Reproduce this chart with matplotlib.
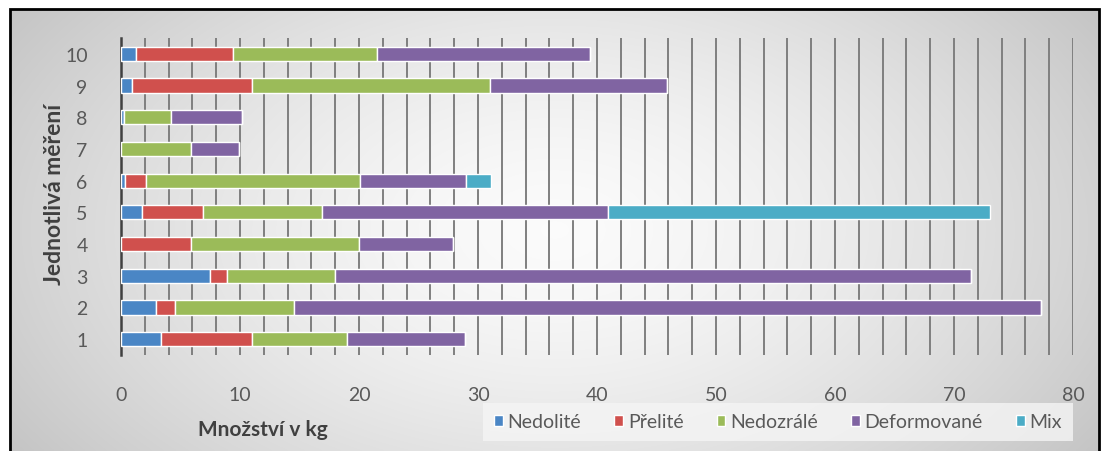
import numpy as np
import matplotlib
matplotlib.use("Agg")
import matplotlib.pyplot as plt
from matplotlib.patches import Rectangle
from matplotlib.ticker import MultipleLocator

plt.rcParams['font.family'] = ['Lato', 'DejaVu Sans']

categories = ["1", "2", "3", "4", "5", "6", "7", "8", "9", "10"]
series_names = ["Nedolité", "Přelité", "Nedozrálé", "Deformované", "Mix"]
nedolite = [3.4, 2.9, 7.5, 0.0, 1.8, 0.3, 0.0, 0.25, 0.9, 1.3]
prelite = [7.6, 1.6, 1.4, 5.9, 5.1, 1.8, 0.0, 0.0, 10.1, 8.1]
nedozrale = [8.0, 10.0, 9.1, 14.1, 10.0, 18.0, 5.9, 3.95, 20.0, 12.1]
deformovane = [9.9, 62.8, 53.4, 7.9, 24.0, 8.9, 4.0, 6.0, 14.9, 17.9]
mix = [0.0, 0.0, 0.0, 0.0, 32.1, 2.1, 0.0, 0.0, 0.0, 0.0]
colors = ["#4A86C5", "#D0504D", "#9BBB59", "#8064A2", "#4BACC6"]

W, H = 1111, 452
fig = plt.figure(figsize=(W / 100, H / 100), dpi=100)
fig.patch.set_facecolor("white")

# background gradient
bg = fig.add_axes([0, 0, 1, 1], zorder=-10)
x = np.linspace(-1, 1, 400)
y = np.linspace(-1, 1, 200)
X, Y = np.meshgrid(x, y)
R = np.sqrt((X * 0.9) ** 2 + (Y * 0.6) ** 2)
G = 0.985 - 0.19 * np.clip(R, 0, 1.2) ** 1.5
bg.imshow(np.dstack([G, G, G]), extent=[10, 1100, 0, H - 10], aspect="auto",
          origin="lower", interpolation="bilinear")
bg.add_patch(Rectangle((10, -5), 1089, H - 10 + 5, fill=False, edgecolor="black", lw=2))
bg.set_xlim(0, W)
bg.set_ylim(0, H)
bg.axis("off")

ax = fig.add_axes([121 / W, 1 - 356 / H, (1073 - 121) / W, (356 - 39) / H])
ax.set_facecolor("none")
pos = np.arange(1, len(categories) + 1)
left = np.zeros(len(categories))
for name, vals, c in zip(series_names, [nedolite, prelite, nedozrale, deformovane, mix], colors):
    v = np.array(vals)
    ax.barh(pos, v, left=left, height=0.45, color=c, edgecolor="white", linewidth=1.0,
            label=name, zorder=3)
    left += v

ax.set_xlim(0, 80)
ax.set_ylim(0.5, 10.5)
ax.xaxis.set_major_locator(MultipleLocator(10))
ax.xaxis.set_minor_locator(MultipleLocator(2))
ax.grid(True, which="both", axis="x", color="#7f7f7f", lw=1.4, zorder=0)
ax.set_yticks(pos)
ax.set_yticklabels(categories)
for s in ["top", "right", "bottom"]:
    ax.spines[s].set_visible(False)
ax.spines["left"].set_color("#404040")
ax.spines["left"].set_linewidth(1.8)
ax.tick_params(axis="both", which="both", length=0, labelsize=14, labelcolor="#595959")
ax.tick_params(axis="x", pad=22)
ax.tick_params(axis="y", pad=24)

fig.text(55 / W, 1 - 194 / H, "Jednotlivá měření", rotation=90, ha="center", va="center",
         fontsize=16.5, fontweight="bold", color="#404040")
fig.text(263 / W, 1 - 430 / H, "Množství v kg", ha="center", va="center",
         fontsize=15, fontweight="bold", color="#404040")

leg = fig.legend(loc="center", bbox_to_anchor=(778 / W, 1 - 423 / H), ncol=5,
                 frameon=True, fontsize=14, handlelength=0.45, handleheight=0.45,
                 handletextpad=0.25, columnspacing=1.7, borderpad=0.35)
leg.get_frame().set_facecolor("#f5f5f5")
leg.get_frame().set_edgecolor("none")
leg.get_frame().set_boxstyle("square", pad=0.2)
for t in leg.get_texts():
    t.set_color("#595959")

fig.savefig("out.png", dpi=100)
